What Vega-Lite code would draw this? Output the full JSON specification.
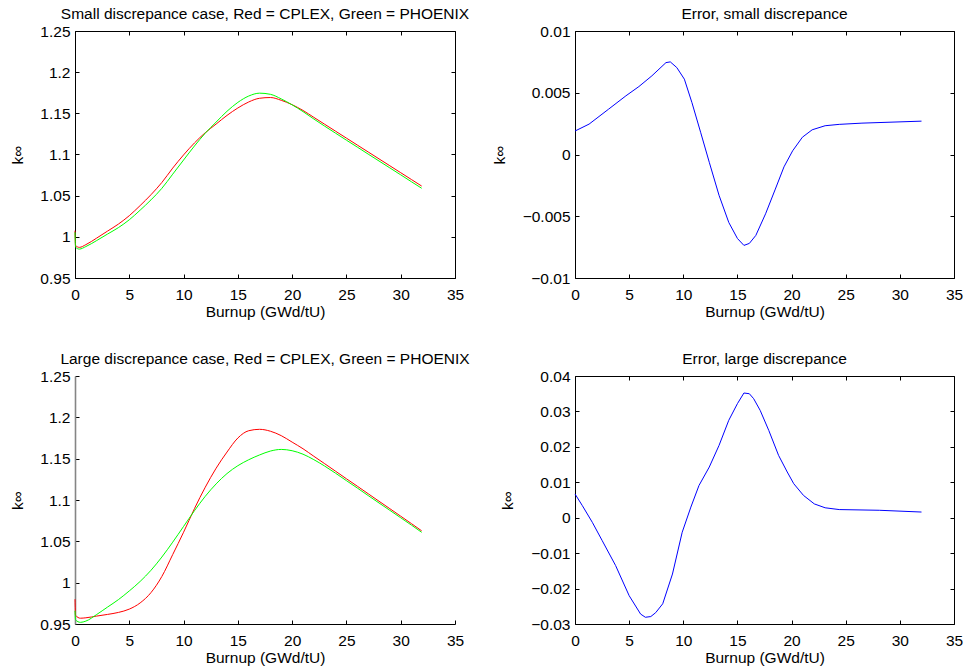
{
  "$schema": "https://vega.github.io/schema/vega-lite/v6.json",
  "background": "white",
  "padding": {"left": 9, "top": 6, "right": 0, "bottom": 0},
  "columns": 2,
  "spacing": {"row": 98, "column": 120},
  "bounds": "flush",
  "config": {
    "font": "Liberation Sans",
    "view": {"stroke": "black", "strokeWidth": 1},
    "axis": {"grid": false, "labelFontSize": 15.5, "titleFontSize": 15.5, "labelColor": "black", "titleColor": "black", "titleFontWeight": "normal", "tickColor": "black", "domainColor": "black", "tickSize": -4, "labelFlush": false, "labelOverlap": false},
    "axisX": {"labelPadding": 13},
    "axisY": {"labelPadding": 9},
    "title": {"fontSize": 15.5, "fontWeight": "normal", "color": "black", "frame": "group", "offset": 2, "baseline": "alphabetic"}
  },
  "datasets": {
    "small": [
      {"x": 0, "k": 1.0075, "series": "CPLEX"}, {"x": 0.05, "k": 0.9895, "series": "CPLEX"}, {"x": 0.4, "k": 0.9872, "series": "CPLEX"}, {"x": 1, "k": 0.9905, "series": "CPLEX"}, {"x": 2, "k": 0.9985, "series": "CPLEX"}, {"x": 3, "k": 1.007, "series": "CPLEX"}, {"x": 4, "k": 1.0155, "series": "CPLEX"}, {"x": 5, "k": 1.0257, "series": "CPLEX"}, {"x": 6, "k": 1.038, "series": "CPLEX"}, {"x": 7, "k": 1.0512, "series": "CPLEX"}, {"x": 8, "k": 1.066, "series": "CPLEX"}, {"x": 9, "k": 1.0835, "series": "CPLEX"}, {"x": 10, "k": 1.0995, "series": "CPLEX"}, {"x": 11, "k": 1.114, "series": "CPLEX"}, {"x": 12, "k": 1.1265, "series": "CPLEX"}, {"x": 13, "k": 1.137, "series": "CPLEX"}, {"x": 14, "k": 1.1475, "series": "CPLEX"}, {"x": 15, "k": 1.1565, "series": "CPLEX"}, {"x": 16, "k": 1.1638, "series": "CPLEX"}, {"x": 17, "k": 1.1683, "series": "CPLEX"}, {"x": 18, "k": 1.1692, "series": "CPLEX"}, {"x": 19, "k": 1.1658, "series": "CPLEX"}, {"x": 20, "k": 1.1605, "series": "CPLEX"}, {"x": 21, "k": 1.1535, "series": "CPLEX"}, {"x": 22, "k": 1.1451, "series": "CPLEX"}, {"x": 23, "k": 1.1367, "series": "CPLEX"}, {"x": 24, "k": 1.1283, "series": "CPLEX"}, {"x": 25, "k": 1.1199, "series": "CPLEX"}, {"x": 26, "k": 1.1115, "series": "CPLEX"}, {"x": 27, "k": 1.1031, "series": "CPLEX"}, {"x": 28, "k": 1.0947, "series": "CPLEX"}, {"x": 29, "k": 1.0863, "series": "CPLEX"}, {"x": 30, "k": 1.0779, "series": "CPLEX"}, {"x": 31, "k": 1.0695, "series": "CPLEX"}, {"x": 31.93, "k": 1.0617, "series": "CPLEX"},
      {"x": 0, "k": 1.0056, "series": "PHOENIX"}, {"x": 0.05, "k": 0.9875, "series": "PHOENIX"}, {"x": 0.4, "k": 0.9851, "series": "PHOENIX"}, {"x": 1, "k": 0.9882, "series": "PHOENIX"}, {"x": 2, "k": 0.9955, "series": "PHOENIX"}, {"x": 3, "k": 1.0034, "series": "PHOENIX"}, {"x": 4, "k": 1.0112, "series": "PHOENIX"}, {"x": 5, "k": 1.0207, "series": "PHOENIX"}, {"x": 6, "k": 1.0324, "series": "PHOENIX"}, {"x": 7, "k": 1.0449, "series": "PHOENIX"}, {"x": 8, "k": 1.0589, "series": "PHOENIX"}, {"x": 9, "k": 1.0761, "series": "PHOENIX"}, {"x": 10, "k": 1.0933, "series": "PHOENIX"}, {"x": 11, "k": 1.1103, "series": "PHOENIX"}, {"x": 12, "k": 1.1259, "series": "PHOENIX"}, {"x": 13, "k": 1.1394, "series": "PHOENIX"}, {"x": 14, "k": 1.1525, "series": "PHOENIX"}, {"x": 15, "k": 1.1633, "series": "PHOENIX"}, {"x": 16, "k": 1.171, "series": "PHOENIX"}, {"x": 17, "k": 1.1745, "series": "PHOENIX"}, {"x": 18, "k": 1.1731, "series": "PHOENIX"}, {"x": 19, "k": 1.1675, "series": "PHOENIX"}, {"x": 20, "k": 1.1603, "series": "PHOENIX"}, {"x": 21, "k": 1.1521, "series": "PHOENIX"}, {"x": 22, "k": 1.1431, "series": "PHOENIX"}, {"x": 23, "k": 1.1344, "series": "PHOENIX"}, {"x": 24, "k": 1.1259, "series": "PHOENIX"}, {"x": 25, "k": 1.1174, "series": "PHOENIX"}, {"x": 26, "k": 1.109, "series": "PHOENIX"}, {"x": 27, "k": 1.1005, "series": "PHOENIX"}, {"x": 28, "k": 1.0921, "series": "PHOENIX"}, {"x": 29, "k": 1.0837, "series": "PHOENIX"}, {"x": 30, "k": 1.0753, "series": "PHOENIX"}, {"x": 31, "k": 1.0668, "series": "PHOENIX"}, {"x": 31.93, "k": 1.059, "series": "PHOENIX"}
    ],
    "large": [
      {"x": 0, "k": 0.98, "series": "CPLEX"}, {"x": 0.05, "k": 0.9605, "series": "CPLEX"}, {"x": 0.5, "k": 0.957, "series": "CPLEX"}, {"x": 1, "k": 0.9575, "series": "CPLEX"}, {"x": 2, "k": 0.9596, "series": "CPLEX"}, {"x": 3, "k": 0.9616, "series": "CPLEX"}, {"x": 4, "k": 0.964, "series": "CPLEX"}, {"x": 5, "k": 0.968, "series": "CPLEX"}, {"x": 6, "k": 0.9755, "series": "CPLEX"}, {"x": 7, "k": 0.988, "series": "CPLEX"}, {"x": 8, "k": 1.0075, "series": "CPLEX"}, {"x": 9, "k": 1.034, "series": "CPLEX"}, {"x": 10, "k": 1.061, "series": "CPLEX"}, {"x": 11, "k": 1.0895, "series": "CPLEX"}, {"x": 12, "k": 1.1155, "series": "CPLEX"}, {"x": 13, "k": 1.1385, "series": "CPLEX"}, {"x": 14, "k": 1.158, "series": "CPLEX"}, {"x": 15, "k": 1.175, "series": "CPLEX"}, {"x": 16, "k": 1.1838, "series": "CPLEX"}, {"x": 17, "k": 1.1855, "series": "CPLEX"}, {"x": 18, "k": 1.1832, "series": "CPLEX"}, {"x": 19, "k": 1.1778, "series": "CPLEX"}, {"x": 20, "k": 1.17, "series": "CPLEX"}, {"x": 21, "k": 1.162, "series": "CPLEX"}, {"x": 22, "k": 1.1529, "series": "CPLEX"}, {"x": 23, "k": 1.1439, "series": "CPLEX"}, {"x": 24, "k": 1.1348, "series": "CPLEX"}, {"x": 25, "k": 1.1257, "series": "CPLEX"}, {"x": 26, "k": 1.1167, "series": "CPLEX"}, {"x": 27, "k": 1.1076, "series": "CPLEX"}, {"x": 28, "k": 1.0985, "series": "CPLEX"}, {"x": 29, "k": 1.0895, "series": "CPLEX"}, {"x": 30, "k": 1.0804, "series": "CPLEX"}, {"x": 31, "k": 1.0713, "series": "CPLEX"}, {"x": 31.93, "k": 1.0627, "series": "CPLEX"},
      {"x": 0, "k": 0.966, "series": "PHOENIX"}, {"x": 0.05, "k": 0.955, "series": "PHOENIX"}, {"x": 0.5, "k": 0.952, "series": "PHOENIX"}, {"x": 1, "k": 0.9535, "series": "PHOENIX"}, {"x": 2, "k": 0.9615, "series": "PHOENIX"}, {"x": 3, "k": 0.9705, "series": "PHOENIX"}, {"x": 4, "k": 0.9795, "series": "PHOENIX"}, {"x": 5, "k": 0.99, "series": "PHOENIX"}, {"x": 6, "k": 1.0015, "series": "PHOENIX"}, {"x": 7, "k": 1.015, "series": "PHOENIX"}, {"x": 8, "k": 1.031, "series": "PHOENIX"}, {"x": 9, "k": 1.049, "series": "PHOENIX"}, {"x": 10, "k": 1.068, "series": "PHOENIX"}, {"x": 11, "k": 1.087, "series": "PHOENIX"}, {"x": 12, "k": 1.1045, "series": "PHOENIX"}, {"x": 13, "k": 1.1195, "series": "PHOENIX"}, {"x": 14, "k": 1.132, "series": "PHOENIX"}, {"x": 15, "k": 1.1415, "series": "PHOENIX"}, {"x": 16, "k": 1.1487, "series": "PHOENIX"}, {"x": 17, "k": 1.1545, "series": "PHOENIX"}, {"x": 18, "k": 1.1592, "series": "PHOENIX"}, {"x": 19, "k": 1.1612, "series": "PHOENIX"}, {"x": 20, "k": 1.1596, "series": "PHOENIX"}, {"x": 21, "k": 1.1554, "series": "PHOENIX"}, {"x": 22, "k": 1.1488, "series": "PHOENIX"}, {"x": 23, "k": 1.141, "series": "PHOENIX"}, {"x": 24, "k": 1.1324, "series": "PHOENIX"}, {"x": 25, "k": 1.1234, "series": "PHOENIX"}, {"x": 26, "k": 1.1145, "series": "PHOENIX"}, {"x": 27, "k": 1.1054, "series": "PHOENIX"}, {"x": 28, "k": 1.0964, "series": "PHOENIX"}, {"x": 29, "k": 1.0875, "series": "PHOENIX"}, {"x": 30, "k": 1.0785, "series": "PHOENIX"}, {"x": 31, "k": 1.0695, "series": "PHOENIX"}, {"x": 31.93, "k": 1.0609, "series": "PHOENIX"}
    ],
    "errSmall": [
      {"x": 0, "e": 0.0019}, {"x": 1.3, "e": 0.00246}, {"x": 3.1, "e": 0.00367}, {"x": 4.7, "e": 0.00475}, {"x": 5.9, "e": 0.0055}, {"x": 7.1, "e": 0.00637}, {"x": 8.4, "e": 0.00744}, {"x": 8.8, "e": 0.0075}, {"x": 9.4, "e": 0.00704}, {"x": 10.1, "e": 0.0061}, {"x": 10.8, "e": 0.0042}, {"x": 11.6, "e": 0.0018}, {"x": 12.4, "e": -0.00063}, {"x": 13.3, "e": -0.0033}, {"x": 14.2, "e": -0.0055}, {"x": 15, "e": -0.0068}, {"x": 15.6, "e": -0.00736}, {"x": 16.1, "e": -0.0072}, {"x": 16.7, "e": -0.00655}, {"x": 17.6, "e": -0.0048}, {"x": 18.5, "e": -0.0028}, {"x": 19.3, "e": -0.001}, {"x": 20.1, "e": 0.0003}, {"x": 21, "e": 0.0014}, {"x": 21.9, "e": 0.002}, {"x": 23.1, "e": 0.00233}, {"x": 24.4, "e": 0.00244}, {"x": 26.5, "e": 0.00254}, {"x": 32, "e": 0.0027}
    ],
    "errLarge": [
      {"x": 0, "e": 0.0067}, {"x": 0.68, "e": 0.0034}, {"x": 1.6, "e": -0.0013}, {"x": 2.5, "e": -0.0064}, {"x": 3.75, "e": -0.0135}, {"x": 5, "e": -0.022}, {"x": 6.06, "e": -0.0272}, {"x": 6.5, "e": -0.0281}, {"x": 7, "e": -0.0279}, {"x": 7.45, "e": -0.0268}, {"x": 8.1, "e": -0.0243}, {"x": 9, "e": -0.0159}, {"x": 9.9, "e": -0.0041}, {"x": 10.7, "e": 0.003}, {"x": 11.45, "e": 0.0091}, {"x": 12.4, "e": 0.0143}, {"x": 13.3, "e": 0.0204}, {"x": 14.2, "e": 0.0275}, {"x": 15, "e": 0.0322}, {"x": 15.6, "e": 0.0352}, {"x": 16.1, "e": 0.035}, {"x": 16.5, "e": 0.0336}, {"x": 17.1, "e": 0.0303}, {"x": 17.9, "e": 0.0246}, {"x": 18.8, "e": 0.0176}, {"x": 19.6, "e": 0.0129}, {"x": 20.2, "e": 0.0096}, {"x": 21.1, "e": 0.0063}, {"x": 22.1, "e": 0.0039}, {"x": 23.1, "e": 0.0028}, {"x": 24.4, "e": 0.0023}, {"x": 28.1, "e": 0.0021}, {"x": 32, "e": 0.0016}
    ]
  },
  "concat": [
    {
      "title": {"text": "Small discrepance case, Red = CPLEX, Green = PHOENIX"},
      "width": 380, "height": 247,
      "data": {"name": "small"},
      "layer": [
        {"mark": {"type": "line", "strokeWidth": 1, "interpolate": "monotone"},
         "encoding": {
           "x": {"field": "x", "type": "quantitative", "scale": {"domain": [0, 35], "nice": false, "zero": false}, "axis": {"values": [0, 5, 10, 15, 20, 25, 30, 35], "title": "Burnup (GWd/tU)", "titleY": 38, "titleBaseline": "alphabetic", "domain": false}},
           "y": {"field": "k", "type": "quantitative", "scale": {"domain": [0.95, 1.25], "nice": false, "zero": false}, "axis": {"values": [0.95, 1, 1.05, 1.1, 1.15, 1.2, 1.25], "format": "~g", "title": "k∞", "titleX": -53, "titleBaseline": "alphabetic", "domain": false}},
           "color": {"field": "series", "type": "nominal", "scale": {"domain": ["CPLEX", "PHOENIX"], "range": ["#ff0000", "#00ff00"]}, "legend": null}
         }},
        {"mark": {"type": "line", "strokeOpacity": 0},
         "encoding": {
           "x": {"field": "x", "type": "quantitative", "axis": {"orient": "top", "values": [0, 5, 10, 15, 20, 25, 30, 35], "labels": false, "title": null, "domain": false}},
           "y": {"field": "k", "type": "quantitative", "axis": {"orient": "right", "values": [0.95, 1, 1.05, 1.1, 1.15, 1.2, 1.25], "labels": false, "title": null, "domain": false}},
           "detail": {"field": "series"}
         }}
      ],
      "resolve": {"axis": {"x": "independent", "y": "independent"}}
    },
    {
      "title": {"text": "Error, small discrepance"},
      "width": 379, "height": 247,
      "data": {"name": "errSmall"},
      "layer": [
        {"mark": {"type": "line", "strokeWidth": 1, "color": "#0000ff"},
         "encoding": {
           "x": {"field": "x", "type": "quantitative", "scale": {"domain": [0, 35], "nice": false, "zero": false}, "axis": {"values": [0, 5, 10, 15, 20, 25, 30, 35], "title": "Burnup (GWd/tU)", "titleY": 38, "titleBaseline": "alphabetic", "domain": false}},
           "y": {"field": "e", "type": "quantitative", "scale": {"domain": [-0.01, 0.01], "nice": false, "zero": false}, "axis": {"values": [-0.01, -0.005, 0, 0.005, 0.01], "format": "~g", "title": "k∞", "titleX": -71, "titleBaseline": "alphabetic", "domain": false}}
         }},
        {"mark": {"type": "line", "strokeOpacity": 0},
         "encoding": {
           "x": {"field": "x", "type": "quantitative", "axis": {"orient": "top", "values": [0, 5, 10, 15, 20, 25, 30, 35], "labels": false, "title": null, "domain": false}},
           "y": {"field": "e", "type": "quantitative", "axis": {"orient": "right", "values": [-0.01, -0.005, 0, 0.005, 0.01], "labels": false, "title": null, "domain": false}}
         }}
      ],
      "resolve": {"axis": {"x": "independent", "y": "independent"}}
    },
    {
      "title": {"text": "Large discrepance case, Red = CPLEX, Green = PHOENIX"},
      "width": 380, "height": 248,
      "view": {"stroke": null},
      "data": {"name": "large"},
      "mark": {"type": "line", "strokeWidth": 1, "interpolate": "monotone"},
      "encoding": {
        "x": {"field": "x", "type": "quantitative", "scale": {"domain": [0, 35], "nice": false, "zero": false}, "axis": {"values": [0, 5, 10, 15, 20, 25, 30, 35], "title": "Burnup (GWd/tU)", "titleY": 38, "titleBaseline": "alphabetic", "domain": true}},
        "y": {"field": "k", "type": "quantitative", "scale": {"domain": [0.95, 1.25], "nice": false, "zero": false}, "axis": {"values": [0.95, 1, 1.05, 1.1, 1.15, 1.2, 1.25], "format": "~g", "title": "k∞", "titleX": -53, "titleBaseline": "alphabetic", "domain": true, "domainColor": "#858585", "domainWidth": 1.6}},
        "color": {"field": "series", "type": "nominal", "scale": {"domain": ["CPLEX", "PHOENIX"], "range": ["#ff0000", "#00ff00"]}, "legend": null}
      }
    },
    {
      "title": {"text": "Error, large discrepance"},
      "width": 379, "height": 248,
      "data": {"name": "errLarge"},
      "layer": [
        {"mark": {"type": "line", "strokeWidth": 1, "color": "#0000ff"},
         "encoding": {
           "x": {"field": "x", "type": "quantitative", "scale": {"domain": [0, 35], "nice": false, "zero": false}, "axis": {"values": [0, 5, 10, 15, 20, 25, 30, 35], "title": "Burnup (GWd/tU)", "titleY": 38, "titleBaseline": "alphabetic", "domain": false}},
           "y": {"field": "e", "type": "quantitative", "scale": {"domain": [-0.03, 0.04], "nice": false, "zero": false}, "axis": {"values": [-0.03, -0.02, -0.01, 0, 0.01, 0.02, 0.03, 0.04], "format": "~g", "title": "k∞", "titleX": -63, "titleBaseline": "alphabetic", "domain": false}}
         }},
        {"mark": {"type": "line", "strokeOpacity": 0},
         "encoding": {
           "x": {"field": "x", "type": "quantitative", "axis": {"orient": "top", "values": [0, 5, 10, 15, 20, 25, 30, 35], "labels": false, "title": null, "domain": false}},
           "y": {"field": "e", "type": "quantitative", "axis": {"orient": "right", "values": [-0.03, -0.02, -0.01, 0, 0.01, 0.02, 0.03, 0.04], "labels": false, "title": null, "domain": false}}
         }}
      ],
      "resolve": {"axis": {"x": "independent", "y": "independent"}}
    }
  ]
}
